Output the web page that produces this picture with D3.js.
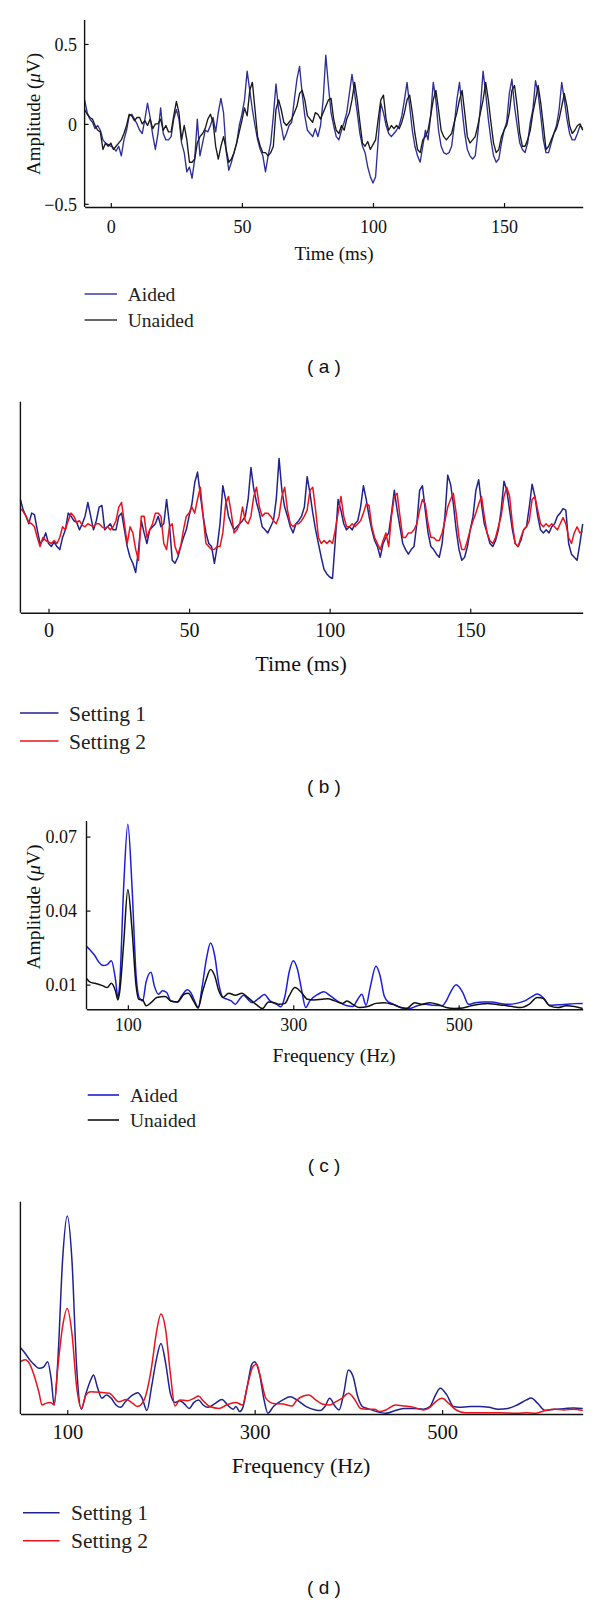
<!DOCTYPE html>
<html><head><meta charset="utf-8">
<script src="https://cdn.jsdelivr.net/npm/d3@7"></script>
<style>body{margin:0;background:#fff} svg{display:block}</style>
</head><body><svg id="c" width="600" height="1604"></svg>
<script>
// ---------- Panel (a): time domain, Aided vs Unaided (µV) ----------
const aTime = d3.range(-10, 181); // ms, 1 ms sampling grid
const aAided = [
 0.15,0.07,0.03,0.01,-0.03,-0.01,-0.04,-0.10,-0.12,-0.13,
 -0.14,-0.15,-0.17,-0.14,-0.20,-0.10,-0.04,0.05,0.06,0.03,
 0.00,-0.04,-0.06,0.03,0.13,0.04,-0.07,-0.16,-0.06,0.10,
 -0.06,-0.10,-0.10,-0.08,0.03,0.09,0.03,-0.12,-0.18,-0.30,
 -0.27,-0.34,-0.22,0.03,-0.20,-0.12,-0.04,-0.05,-0.01,0.04,
 -0.05,0.07,0.16,0.07,-0.17,-0.29,-0.24,-0.18,-0.12,-0.01,
 0.06,0.15,0.33,0.21,0.09,-0.01,-0.10,-0.16,-0.20,-0.30,
 -0.20,-0.12,0.05,0.25,0.09,-0.01,-0.10,-0.06,-0.01,0.01,
 0.15,0.28,0.36,0.19,0.05,-0.04,-0.06,-0.08,-0.03,-0.08,
 -0.01,0.15,0.43,0.24,0.07,-0.01,-0.08,-0.10,-0.04,0.01,
 0.07,0.19,0.31,0.19,0.07,-0.06,-0.14,-0.18,-0.27,-0.33,
 -0.37,-0.33,-0.10,0.13,0.07,-0.01,-0.06,-0.08,-0.06,-0.04,
 -0.01,0.05,0.15,0.26,0.11,-0.04,-0.14,-0.20,-0.24,-0.14,
 -0.04,-0.10,0.05,0.26,0.15,-0.04,-0.14,-0.18,-0.19,-0.18,
 -0.14,-0.01,0.15,0.26,0.09,-0.06,-0.16,-0.20,-0.22,-0.20,
 -0.06,0.11,0.33,0.19,0.03,-0.10,-0.20,-0.24,-0.22,-0.12,
 -0.04,0.01,0.19,0.28,0.11,-0.01,-0.12,-0.16,-0.18,-0.12,
 0.01,0.09,0.27,0.19,0.05,-0.10,-0.18,-0.18,-0.12,-0.06,
 -0.01,0.09,0.26,0.15,0.03,-0.06,-0.10,-0.10,-0.06,-0.01,
 -0.03];
const aUnaided = [
 0.09,0.06,0.04,0.03,-0.01,-0.04,-0.05,-0.16,-0.12,-0.14,
 -0.12,-0.16,-0.14,-0.12,-0.10,-0.06,-0.01,0.06,0.05,0.02,
 0.04,0.04,0.00,0.02,-0.01,0.03,-0.03,0.00,0.00,0.03,
 -0.04,-0.01,-0.05,-0.05,0.05,0.14,0.07,-0.10,-0.01,-0.10,
 -0.24,-0.24,-0.22,-0.12,-0.08,-0.06,-0.03,0.03,0.06,0.01,
 -0.14,-0.22,-0.14,-0.08,-0.16,-0.24,-0.22,-0.18,-0.12,-0.05,
 0.02,0.10,0.05,0.21,0.26,0.09,-0.08,-0.14,-0.18,-0.18,
 -0.20,-0.18,-0.14,0.09,0.15,0.09,0.01,-0.01,0.01,0.03,
 0.07,0.11,0.19,0.21,0.15,0.05,0.03,0.01,0.07,0.06,
 0.03,0.07,0.11,0.15,0.16,0.03,-0.04,-0.06,-0.01,-0.04,
 0.03,0.07,0.15,0.26,0.15,0.01,-0.12,-0.14,-0.11,-0.16,
 -0.13,-0.10,0.03,0.15,0.18,0.03,-0.04,-0.01,-0.03,-0.01,
 -0.03,0.01,0.07,0.15,0.18,0.07,-0.06,-0.16,-0.18,-0.10,
 -0.08,-0.04,0.05,0.15,0.21,0.09,-0.04,-0.08,-0.10,-0.08,
 -0.06,0.01,0.07,0.15,0.21,0.07,-0.08,-0.12,-0.10,-0.08,
 -0.01,0.07,0.15,0.26,0.15,0.01,-0.12,-0.18,-0.16,-0.08,
 -0.04,-0.01,0.07,0.21,0.24,0.11,-0.06,-0.14,-0.14,-0.10,
 -0.04,0.07,0.15,0.24,0.13,-0.01,-0.16,-0.14,-0.10,-0.06,
 -0.03,0.03,0.11,0.19,0.11,-0.01,-0.06,-0.04,-0.01,0.00,
 -0.04];
const aXTicks = [0, 50, 100, 150];
const aYTicks = [-0.5, 0, 0.5];

// ---------- Panel (b): time domain, Setting 1 vs Setting 2 ----------
const bTime = d3.range(-10, 191);
const bSetting1 = [
 0.15,0.08,0.04,-0.01,0.06,0.05,-0.05,-0.14,-0.12,-0.07,
 -0.14,-0.16,-0.13,-0.16,-0.18,-0.10,-0.05,0.06,0.04,0.01,
 0.00,-0.05,-0.01,0.04,0.13,0.04,-0.05,0.01,0.10,0.11,
 -0.05,-0.03,-0.01,-0.05,-0.05,0.04,0.06,-0.05,-0.16,-0.23,
 -0.27,-0.33,-0.18,0.01,-0.07,-0.14,-0.05,-0.03,-0.01,0.04,
 -0.03,-0.01,0.15,-0.01,-0.25,-0.27,-0.23,-0.16,-0.10,-0.05,
 0.04,0.12,0.26,0.33,0.18,0.04,-0.07,-0.14,-0.16,-0.27,
 -0.16,-0.01,0.24,0.15,0.04,-0.01,-0.05,-0.03,-0.01,0.01,
 0.04,0.15,0.36,0.22,0.13,0.06,-0.03,-0.05,-0.07,-0.03,
 0.01,0.15,0.42,0.21,0.10,0.04,-0.03,-0.07,-0.01,0.01,
 0.04,0.10,0.30,0.19,0.06,-0.05,-0.14,-0.23,-0.31,-0.34,
 -0.36,-0.37,-0.12,0.15,0.08,-0.01,-0.05,-0.03,-0.05,-0.01,
 0.01,0.10,0.24,0.15,0.04,-0.05,-0.12,-0.16,-0.23,-0.14,
 -0.10,-0.07,0.06,0.21,0.08,-0.03,-0.14,-0.18,-0.21,-0.18,
 -0.16,-0.01,0.21,0.24,0.08,-0.07,-0.16,-0.18,-0.21,-0.23,
 -0.14,0.04,0.31,0.25,0.12,-0.05,-0.18,-0.25,-0.23,-0.16,
 -0.05,0.04,0.21,0.28,0.12,-0.01,-0.07,-0.14,-0.16,-0.12,
 -0.05,0.08,0.27,0.21,0.08,-0.05,-0.14,-0.16,-0.12,-0.05,
 -0.03,0.10,0.25,0.17,0.04,-0.05,-0.07,-0.05,-0.07,-0.03,
 -0.01,0.04,0.06,0.09,0.08,-0.14,-0.21,-0.23,-0.25,-0.14,
 -0.01];
const bSetting2 = [
 0.09,0.07,0.04,0.00,-0.01,-0.03,-0.10,-0.16,-0.10,-0.12,
 -0.13,-0.14,-0.12,-0.14,-0.10,-0.03,-0.05,0.01,0.06,0.04,
 0.00,0.01,-0.02,-0.03,-0.01,-0.02,-0.03,-0.01,-0.01,-0.03,
 -0.04,-0.03,-0.05,-0.03,0.01,0.10,0.13,-0.01,-0.14,-0.03,
 -0.07,-0.18,-0.25,0.04,0.04,-0.10,-0.05,-0.01,0.06,0.06,
 0.04,-0.14,-0.18,-0.03,-0.01,-0.16,-0.21,-0.16,-0.05,0.04,
 0.06,0.10,0.06,0.15,0.23,0.04,-0.14,-0.16,-0.18,-0.18,
 -0.16,-0.16,-0.07,0.12,0.17,0.06,-0.07,-0.05,-0.01,0.10,
 0.01,-0.01,0.04,0.17,0.23,0.10,0.04,0.06,0.06,0.04,
 0.01,-0.01,0.04,0.17,0.23,0.08,-0.01,-0.03,-0.01,-0.01,
 0.01,0.04,0.08,0.21,0.23,0.08,-0.10,-0.14,-0.12,-0.14,
 -0.12,-0.14,-0.05,0.06,0.17,0.04,-0.03,-0.03,-0.01,-0.03,
 -0.01,0.01,0.06,0.12,0.11,-0.03,-0.10,-0.14,-0.18,-0.12,
 -0.07,-0.16,0.04,0.17,0.19,0.04,-0.10,-0.10,-0.07,-0.07,
 -0.05,-0.01,0.08,0.15,0.12,-0.01,-0.10,-0.10,-0.12,-0.12,
 -0.07,0.01,0.10,0.15,0.19,0.06,-0.10,-0.18,-0.18,-0.12,
 -0.05,0.01,0.06,0.12,0.17,0.04,-0.07,-0.12,-0.14,-0.10,
 -0.03,0.04,0.17,0.23,0.17,-0.01,-0.14,-0.16,-0.10,-0.05,
 -0.03,0.01,0.15,0.17,0.08,-0.01,-0.03,-0.01,-0.03,-0.01,
 -0.03,-0.05,-0.01,0.03,-0.01,-0.10,-0.14,-0.07,-0.03,-0.07,
 -0.06];
const bXTicks = [0, 50, 100, 150];

// ---------- Panel (c): spectrum, Aided vs Unaided (µV) ----------
const cAidedFreq = [50,55,60,65,70,75,80,85,88,90,95,100,105,110,114,118,122,128,132,137,142,147,152,160,165,172,176,182,185,190,195,200,205,210,215,220,225,230,235,240,245,250,258,265,272,280,285,290,295,300,305,310,315,320,330,337,345,355,365,372,378,383,388,393,400,405,410,415,420,430,440,450,460,470,480,485,490,497,505,512,520,530,540,550,560,570,580,590,595,602,610,620,630,640,650];
const cAidedAmp = [.0255,.0238,.0218,.0191,.0177,.0181,.0197,.0122,.0048,.0095,.050,.075,.050,.0136,.0045,.0034,.0110,.0150,.0095,.0061,.0075,.0068,.0034,.0030,.0054,.0079,.0068,.0024,.0007,.0095,.0204,.0269,.0218,.0102,.0048,.0041,.0034,.0020,.0041,.0057,.0041,.0027,.0043,.0060,.0034,.0020,.0010,.0054,.0150,.0197,.0163,.0081,.0007,.0034,.0061,.0071,.0054,.0030,.0014,.0011,.0041,.0061,.0016,.0088,.0174,.0136,.0054,.0030,.0023,.0007,.0003,.0014,.0020,.0016,.0014,.0034,.0068,.0099,.0068,.0020,.0027,.0030,.0030,.0024,.0020,.0024,.0034,.0054,.0062,.0048,.0016,.0018,.0020,.0023,.0024];
const cUnaidedFreq = [50,55,60,70,75,80,85,88,90,95,100,105,110,113,118,122,128,135,145,152,160,168,173,180,185,190,195,200,205,210,215,222,230,238,245,255,263,270,277,283,290,295,302,310,317,325,335,342,350,360,365,372,380,390,400,410,420,430,437,447,455,465,475,485,495,505,515,525,535,545,555,565,575,585,595,602,610,620,630,640,650];
const cUnaidedAmp = [.0125,.0109,.0106,.0095,.0088,.0106,.0075,.0038,.0068,.027,.0486,.0326,.0095,.0041,.0038,.0014,.0027,.0048,.0052,.0034,.0030,.0061,.0065,.0030,.0005,.0068,.0123,.0161,.0136,.0075,.0048,.0065,.0057,.0065,.0048,.0020,.0003,.0030,.0027,.0020,.0024,.0054,.0088,.0068,.0041,.0038,.0041,.0043,.0034,.0024,.0034,.0020,.0007,.0011,.0024,.0027,.0020,.0007,.0003,.0027,.0020,.0027,.0020,.0007,.0003,.0005,.0014,.0020,.0024,.0020,.0016,.0011,.0007,.0020,.0048,.0045,.0014,.0007,.0014,.0011,.0003];
const cXTicks = [100, 300, 500];
const cYTicks = [0.01, 0.04, 0.07];

// ---------- Panel (d): spectrum, Setting 1 vs Setting 2 ----------
const dSetting1Freq = [50,55,60,65,70,75,79,83,86,90,95,100,105,110,115,120,125,128,132,137,142,147,152,157,162,170,175,180,185,190,195,200,205,210,215,220,225,230,235,240,245,250,258,265,272,277,280,284,287,292,297,300,305,310,314,320,330,338,345,355,365,370,375,380,386,390,395,400,405,410,415,420,430,440,450,460,470,480,487,493,498,505,512,518,530,540,550,560,570,580,590,595,602,610,620,630,640,650];
const dSetting1Amp = [.0251,.0229,.0204,.0185,.0172,.0178,.0197,.0128,.0034,.0204,.058,.0746,.058,.0178,.0018,.0078,.0128,.0147,.0103,.0059,.0072,.0059,.0034,.0025,.0046,.0072,.0080,.0059,.0013,.0103,.0204,.0266,.0191,.0078,.0043,.0050,.0038,.0021,.0043,.0053,.0034,.0025,.0040,.0055,.0030,.0018,.0028,.0009,.0021,.0103,.0188,.0197,.0153,.0053,.0003,.0028,.0053,.0065,.0053,.0028,.0015,.0013,.0028,.0059,.0028,.0015,.0078,.0166,.0141,.0065,.0028,.0021,.0009,.0003,.0013,.0021,.0021,.0018,.0028,.0072,.0097,.0072,.0028,.0025,.0028,.0028,.0025,.0018,.0021,.0034,.0053,.0060,.0040,.0013,.0018,.0020,.0023,.0021];
const dSetting2Freq = [50,55,60,65,70,73,77,82,86,90,95,100,105,110,115,120,125,135,145,155,163,170,175,182,190,195,200,205,210,215,220,228,235,240,245,252,262,270,280,287,292,298,302,306,312,320,330,340,345,352,358,365,372,380,385,393,400,407,413,420,428,433,440,450,460,470,480,487,493,500,507,515,525,540,560,580,590,600,610,620,630,640,650];
const dSetting2Amp = [.0197,.0204,.0188,.0141,.0078,.0034,.0040,.0043,.0034,.0178,.0329,.0398,.0304,.0103,.0021,.0072,.0084,.0082,.0078,.0046,.0055,.0040,.0028,.0053,.0178,.0304,.0377,.0317,.0153,.0030,.0053,.0050,.0059,.0068,.0050,.0028,.0021,.0034,.0043,.0034,.0103,.0178,.0188,.0141,.0059,.0040,.0038,.0030,.0053,.0068,.0072,.0053,.0038,.0034,.0043,.0059,.0078,.0053,.0021,.0018,.0018,.0009,.0015,.0034,.0030,.0025,.0015,.0025,.0046,.0059,.0040,.0015,.0005,.0005,.0005,.0003,.0005,.0003,.0013,.0018,.0015,.0018,.0013];
const dXTicks = [100, 300, 500];

// ---------- drawing ----------
const SERIF = "'Liberation Serif','Times New Roman',serif";
const svg = d3.select('#c');

function panel(o) {
  const x = d3.scaleLinear().domain(o.xDomain).range(o.xRange);
  const y = d3.scaleLinear().domain(o.yDomain).range(o.yRange);
  const g = svg.append('g');

  // series
  const line = d3.line().x(d => x(d[0])).y(d => y(d[1])).curve(o.curve);
  o.series.forEach(s => {
    g.append('path').datum(d3.zip(s.xs, s.ys))
      .attr('fill', 'none').attr('stroke', s.color)
      .attr('stroke-width', o.lw).attr('stroke-linejoin', 'round')
      .attr('d', line);
  });

  // x axis
  const xa = g.append('g').attr('transform', `translate(0,${o.yRange[0]})`)
    .call(d3.axisBottom(x).tickValues(o.xTicks).tickSize(-4).tickSizeOuter(0).tickFormat(d3.format('d')));
  xa.select('.domain').attr('stroke', '#111').attr('stroke-width', 1.4);
  xa.selectAll('.tick line').attr('stroke', '#111').attr('stroke-width', 1.2);
  xa.selectAll('.tick text').attr('y', o.xLabelY - o.yRange[0]).attr('dy', '0.35em')
    .attr('font-family', SERIF).attr('font-size', o.tickFs).attr('fill', '#111');

  // y axis
  const ya = g.append('g').attr('transform', `translate(${o.xRange[0]},0)`)
    .call(d3.axisLeft(y).tickValues(o.yTicks).tickSize(-4).tickSizeOuter(0).tickFormat(o.yFormat));
  ya.select('.domain').attr('stroke', '#111').attr('stroke-width', 1.4)
    .attr('d', `M0,${o.yRange[0]}V${o.yTop}`);
  ya.selectAll('.tick line').attr('stroke', '#111').attr('stroke-width', 1.2);
  ya.selectAll('.tick text').attr('x', o.yLabelRight - o.xRange[0]).attr('dy', '0.35em')
    .attr('font-family', SERIF).attr('font-size', o.tickFs).attr('fill', '#111');

  // x title
  g.append('text').attr('x', o.xTitle[0]).attr('y', o.xTitle[1]).attr('dy', '0.35em')
    .attr('text-anchor', 'middle').attr('font-family', SERIF).attr('font-size', o.titleFs)
    .attr('fill', '#111').text(o.xTitleText);

  // y title
  if (o.yTitle) {
    const t = g.append('text')
      .attr('transform', `translate(${o.yTitle[0]},${o.yTitle[1]}) rotate(-90)`)
      .attr('dy', '0.35em').attr('text-anchor', 'middle')
      .attr('font-family', SERIF).attr('font-size', o.titleFs).attr('fill', '#111');
    t.append('tspan').text('Amplitude (');
    t.append('tspan').attr('font-style', 'italic').text('\u03bc');
    t.append('tspan').text('V)');
  }

  // legend
  o.series.forEach((s, i) => {
    const ly = o.legend.y[i];
    g.append('line').attr('x1', o.legend.x1).attr('x2', o.legend.x2)
      .attr('y1', ly).attr('y2', ly).attr('stroke', s.legendColor || s.color).attr('stroke-width', 1.6);
    g.append('text').attr('x', o.legend.tx).attr('y', ly).attr('dy', '0.35em')
      .attr('font-family', SERIF).attr('font-size', o.legend.fs).attr('fill', '#222').text(s.name);
  });

  // caption
  g.append('text').attr('x', 324).attr('y', o.captionY).attr('dy', '0.35em')
    .attr('text-anchor', 'middle').attr('font-family', "'Liberation Sans',Arial,sans-serif")
    .attr('font-size', 19).attr('fill', '#111').text(o.caption);
}

panel({
  xDomain: [-10, 180], xRange: [84.6, 582.7],
  yDomain: [-0.52, 0.65], yRange: [207, 20], yTop: 20,
  xTicks: aXTicks, yTicks: aYTicks, yFormat: d => d === 0 ? '0' : d3.format('.1f')(d),
  curve: d3.curveLinear, lw: 1.35,
  series: [
    {name: 'Aided', xs: aTime, ys: aAided, color: '#2d2f96', legendColor: '#3b3d9e'},
    {name: 'Unaided', xs: aTime, ys: aUnaided, color: '#1a1a1a', legendColor: '#333'}
  ],
  tickFs: 18, titleFs: 19, xLabelY: 227, yLabelRight: 77,
  xTitle: [334, 253], xTitleText: 'Time (ms)', yTitle: [33, 114],
  legend: {x1: 84.6, x2: 117, tx: 127.7, y: [294, 320], fs: 19.5},
  caption: '( a )', captionY: 366.7
});

panel({
  xDomain: [-10, 190], xRange: [20.4, 582.7],
  yDomain: [-0.595, 0.793], yRange: [612.7, 401.7], yTop: 401.7,
  xTicks: bXTicks, yTicks: [], yFormat: d => d,
  curve: d3.curveLinear, lw: 1.5,
  series: [
    {name: 'Setting 1', xs: bTime, ys: bSetting1, color: '#20228f'},
    {name: 'Setting 2', xs: bTime, ys: bSetting2, color: '#e8141c'}
  ],
  tickFs: 20, titleFs: 22, xLabelY: 630, yLabelRight: 10,
  xTitle: [301, 663], xTitleText: 'Time (ms)', yTitle: null,
  legend: {x1: 20, x2: 58.5, tx: 69, y: [713, 741], fs: 21.5},
  caption: '( b )', captionY: 786.7
});

panel({
  xDomain: [50, 650], xRange: [86.5, 582.7],
  yDomain: [0, 0.0755], yRange: [1009.3, 823], yTop: 821,
  xTicks: cXTicks, yTicks: cYTicks, yFormat: d3.format('.2f'),
  curve: d3.curveMonotoneX, lw: 1.5,
  series: [
    {name: 'Aided', xs: cAidedFreq, ys: cAidedAmp, color: '#1c1ed8'},
    {name: 'Unaided', xs: cUnaidedFreq, ys: cUnaidedAmp, color: '#111'}
  ],
  tickFs: 18, titleFs: 19.5, xLabelY: 1025, yLabelRight: 77,
  xTitle: [334, 1055], xTitleText: 'Frequency (Hz)', yTitle: [33, 907],
  legend: {x1: 87.7, x2: 119, tx: 130, y: [1095, 1120], fs: 19.5},
  caption: '( c )', captionY: 1165
});

panel({
  xDomain: [50, 650], xRange: [20.4, 582.7],
  yDomain: [0, 0.08], yRange: [1414, 1201.7], yTop: 1201.7,
  xTicks: dXTicks, yTicks: [], yFormat: d => d,
  curve: d3.curveMonotoneX, lw: 1.5,
  series: [
    {name: 'Setting 1', xs: dSetting1Freq, ys: dSetting1Amp, color: '#20228f'},
    {name: 'Setting 2', xs: dSetting2Freq, ys: dSetting2Amp, color: '#e8141c'}
  ],
  tickFs: 20.5, titleFs: 22, xLabelY: 1432, yLabelRight: 10,
  xTitle: [301, 1465], xTitleText: 'Frequency (Hz)', yTitle: null,
  legend: {x1: 23, x2: 59.6, tx: 71, y: [1512.7, 1540.7], fs: 21.5},
  caption: '( d )', captionY: 1587.7
});
</script></body></html>
